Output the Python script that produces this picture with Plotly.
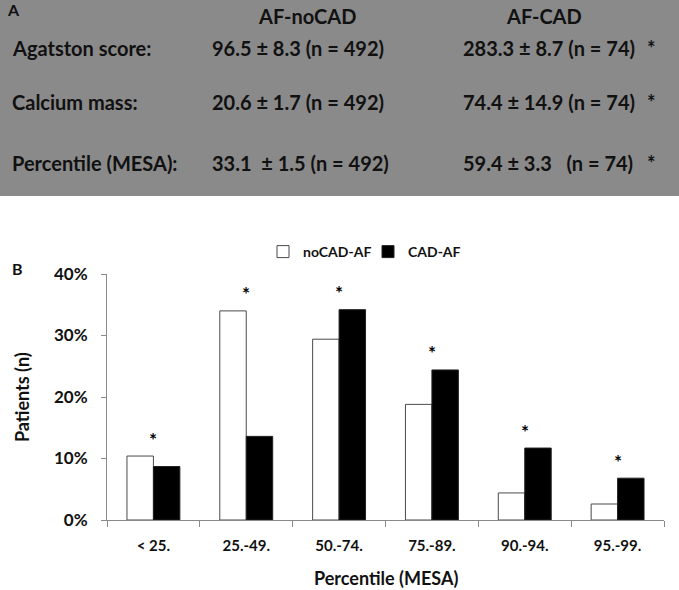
import plotly.graph_objects as go

# ---------------- data ----------------
categories = ["< 25.", "25.-49.", "50.-74.", "75.-89.", "90.-94.", "95.-99."]
nocad_af = [10.4, 34.0, 29.4, 18.8, 4.4, 2.6]
cad_af = [8.7, 13.6, 34.2, 24.4, 11.7, 6.8]
significant = [True, True, True, True, True, True]

row_labels = ["Agatston score:", "Calcium mass:", "Percentile (MESA):"]
col_headers = ["AF-noCAD", "AF-CAD"]
col_nocad = ["96.5 \u00b1 8.3 (n = 492)", "20.6 \u00b1 1.7 (n = 492)", "33.1 \u00a0\u00b1 1.5 (n = 492)"]
col_cad = ["283.3 \u00b1 8.7 (n = 74)", "74.4 \u00b1 14.9 (n = 74)", "59.4 \u00b1 3.3 \u00a0\u00a0(n = 74)"]
row_sig = ["*", "*", "*"]

# ---------------- layout geometry (pixels) ----------------
W, H = 679, 590
L, R, T, B = 107, 15, 274, 70
PW = W - L - R
PH = H - T - B

def px(x):
    return (x - L) / PW

def py(y):
    return (H - B - y) / PH

FONT = "Lato"
TXT = "#111111"
AXC = "#8a8a8a"

fig = go.Figure()
fig.add_trace(go.Bar(
    x=categories, y=nocad_af, name="noCAD-AF",
    marker=dict(color="white", line=dict(color="#4a4a4a", width=1)),
))
fig.add_trace(go.Bar(
    x=categories, y=cad_af, name="CAD-AF",
    marker=dict(color="black", line=dict(color="#222222", width=1)),
))

annotations = []
# significance asterisks above each pair
for c, a, b, s in zip(categories, nocad_af, cad_af, significant):
    if s:
        annotations.append(dict(
            x=c, y=max(a, b), xref="x", yref="y", text="*", showarrow=False,
            xanchor="center", yanchor="middle", yshift=17,
            font=dict(family=FONT, size=19, color="#000000", weight="bold"),
        ))

# Panel A text
annotations.append(dict(x=px(5), y=py(9), xref="paper", yref="paper", text="A",
                        showarrow=False, xanchor="left", yanchor="middle",
                        font=dict(family=FONT, size=16, color=TXT, weight="bold")))
for hx, h in zip([307, 544], col_headers):
    annotations.append(dict(x=px(hx), y=py(16), xref="paper", yref="paper", text=h,
                            showarrow=False, xanchor="center", yanchor="middle",
                            font=dict(family=FONT, size=20, color=TXT, weight="bold")))
for ry, lab, v1, v2, s in zip([48, 102, 163], row_labels, col_nocad, col_cad, row_sig):
    f = dict(family=FONT, size=20, color=TXT, weight="bold")
    annotations.append(dict(x=px(10), y=py(ry), xref="paper", yref="paper", text=lab,
                            showarrow=False, xanchor="left", yanchor="middle", font=f))
    annotations.append(dict(x=px(210), y=py(ry), xref="paper", yref="paper", text=v1,
                            showarrow=False, xanchor="left", yanchor="middle", font=f))
    annotations.append(dict(x=px(461), y=py(ry), xref="paper", yref="paper", text=v2,
                            showarrow=False, xanchor="left", yanchor="middle", font=f))
    annotations.append(dict(x=px(651), y=py(ry), xref="paper", yref="paper", text=s,
                            showarrow=False, xanchor="center", yanchor="middle", font=f))

# Panel B labels
annotations.append(dict(x=px(17), y=py(268), xref="paper", yref="paper", text="B",
                        showarrow=False, xanchor="center", yanchor="middle",
                        font=dict(family=FONT, size=16, color=TXT, weight="bold")))
annotations.append(dict(x=px(22), y=py(397), xref="paper", yref="paper", text="Patients (n)",
                        showarrow=False, xanchor="center", yanchor="middle", textangle=-90,
                        font=dict(family=FONT, size=18, color=TXT, weight="bold")))
annotations.append(dict(x=px(386), y=py(578), xref="paper", yref="paper", text="Percentile (MESA)",
                        showarrow=False, xanchor="center", yanchor="middle",
                        font=dict(family=FONT, size=18, color=TXT, weight="bold")))

fig.update_layout(
    width=W, height=H,
    margin=dict(l=L, r=R, t=T, b=B, pad=0),
    paper_bgcolor="white", plot_bgcolor="white",
    barmode="group", bargap=0.43, bargroupgap=0,
    font=dict(family=FONT, color=TXT),
    showlegend=True,
    legend=dict(orientation="h", x=px(368), y=py(252), xanchor="center", yanchor="middle",
                font=dict(family=FONT, size=14, color=TXT, weight="bold"),
                bgcolor="rgba(0,0,0,0)", itemwidth=30, entrywidth=60,
                traceorder="normal"),
    annotations=annotations,
    shapes=[dict(type="rect", xref="paper", yref="paper",
                 x0=px(0), x1=px(W), y0=py(196), y1=py(0),
                 fillcolor="#8a8a8a", line=dict(width=0), layer="below")],
)
fig.update_xaxes(
    type="category", showline=True, linecolor=AXC, linewidth=1,
    ticks="outside", ticklen=6, tickcolor=AXC, tickson="boundaries",
    showgrid=False, zeroline=False,
    tickfont=dict(family=FONT, size=15, color=TXT, weight="bold"),
    ticklabelstandoff=12,
)
fig.update_yaxes(
    range=[0, 40], dtick=10, ticksuffix="%", showline=True, linecolor=AXC, linewidth=1,
    ticks="outside", ticklen=5, tickcolor=AXC, showgrid=False, zeroline=False,
    tickfont=dict(family=FONT, size=17, color=TXT, weight="bold"),
    ticklabelstandoff=10,
)

fig.write_html("out.html", config={"displayModeBar": False},
               post_script="document.body.style.margin='0';")
